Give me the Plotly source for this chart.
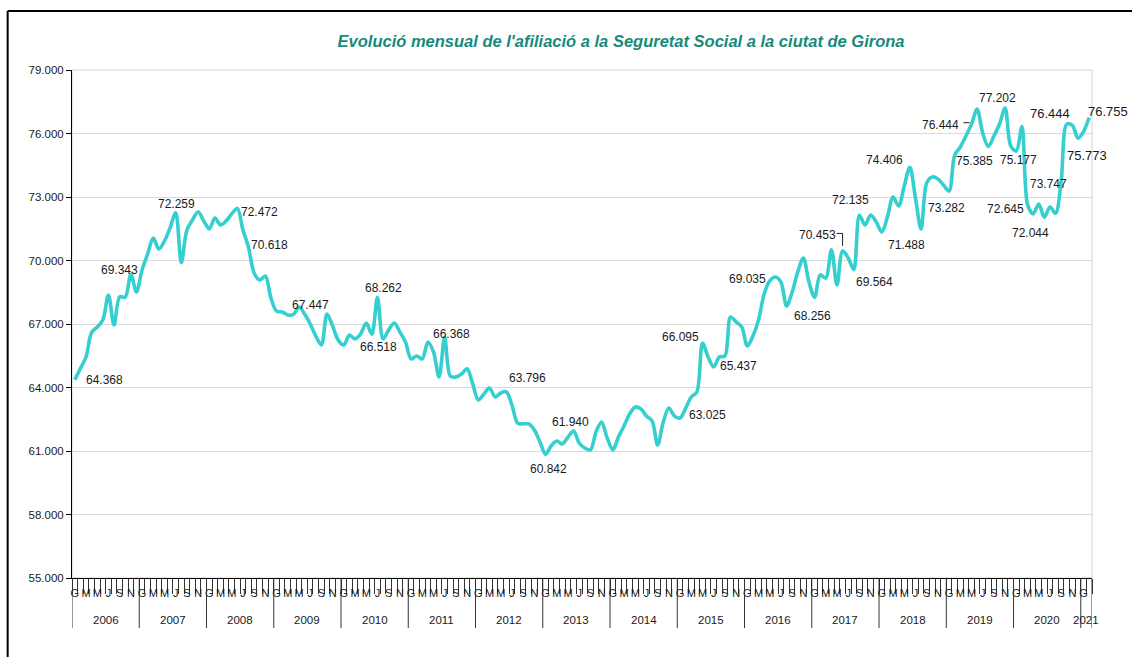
import plotly.graph_objects as go

# ---------------- data ----------------
month_letters = ["G", "F", "M", "A", "M", "J", "J", "A", "S", "O", "N", "D"]
years = list(range(2006, 2022))

afil_2006 = [64368, 64900, 65440, 66600, 66860, 67190, 68370, 66950, 68280, 68270, 69343, 68510]
afil_2007 = [69550, 70310, 71060, 70540, 70920, 71540, 72259, 69900, 71440, 71910, 72300, 71870]
afil_2008 = [71490, 72010, 71680, 71870, 72200, 72472, 71440, 70618, 69410, 69080, 69270, 68230]
afil_2009 = [67610, 67570, 67430, 67447, 67800, 67470, 67000, 66430, 66010, 67470, 66910, 66240]
afil_2010 = [66010, 66480, 66290, 66530, 67050, 66518, 68262, 66290, 66720, 67050, 66620, 66150]
afil_2011 = [65350, 65490, 65350, 66150, 65680, 64500, 66368, 64540, 64500, 64640, 64880, 64170]
afil_2012 = [63410, 63690, 63980, 63550, 63740, 63796, 63170, 62320, 62280, 62280, 61990, 61430]
afil_2013 = [60842, 61240, 61470, 61330, 61660, 61940, 61380, 61140, 61050, 61900, 62370, 61610]
afil_2014 = [61050, 61660, 62180, 62750, 63080, 62990, 62650, 62420, 61280, 62370, 63030, 62650]
afil_2015 = [62560, 63025, 63550, 63790, 66095, 65440, 64970, 65437, 65490, 67330, 67100, 66860]
afil_2016 = [65960, 66430, 67190, 68420, 69035, 69220, 68980, 67850, 68510, 69460, 70120, 68980]
afil_2017 = [68256, 69320, 69170, 70500, 68840, 70453, 70120, 69564, 72135, 71680, 72150, 71820]
afil_2018 = [71350, 72060, 73000, 72580, 73520, 74406, 72950, 71488, 73660, 73950, 73850, 73570]
afil_2019 = [73282, 74980, 75360, 75880, 76444, 77150, 76020, 75385, 75880, 76450, 77202, 75410]
afil_2020 = [75177, 76330, 72645, 72200, 72670, 72044, 72530, 72230, 73747, 76444, 76380, 75773]
afil_2021 = [76100, 76755]

values = (afil_2006 + afil_2007 + afil_2008 + afil_2009 + afil_2010 + afil_2011 + afil_2012
          + afil_2013 + afil_2014 + afil_2015 + afil_2016 + afil_2017 + afil_2018 + afil_2019
          + afil_2020 + afil_2021)
n = len(values)
xs = list(range(n))

# month indices whose value is written on the chart
labelled = [0, 10, 18, 29, 31, 39, 53, 54, 66, 77, 84, 89, 109, 112, 115, 124, 132, 137,
            139, 140, 149, 151, 156, 160, 163, 166, 168, 170, 173, 176, 177, 179, 181]

# ---------------- label placement (pixel offsets) ----------------
lab_dx = [30, -11.6, 1.3, 22.5, 21.3, 17.3, 6.9, 5.6, 6.9, 21.3, 3, -3.4, 22.1, -22, 19, -22.5, -2,
          -24.8, 20.5, -8.8, -25.8, -14.1, -3, -30.7, -14.2, -7.6, 2, -22.5, -14.2, -12.8, -16.9, 9, 18.3]
lab_dy = [0, 4.4, 8.4, -3.5, 2.4, 9.2, -13.1, 9, 3.7, 13.5, -15, 9.1, -6.8, 6.5, -8.6, 1.6, -18.3,
          15.8, -12, 15.3, 7.2, -16, -16.7, -0.9, -14.2, 9.6, -9.1, -4.8, -16.1, -2.8, 10.8, -17.4, 6.5]
lab_size = [12] * 30 + [13, 13, 13]

FONT = "Liberation Sans, Arial, sans-serif"
L, R, T, B = 72.3, 1091.7, 70, 578
W, H = 1132, 657


def fmt(v):
    return f"{v:,}".replace(",", ".")


fig = go.Figure()
fig.add_trace(go.Scatter(
    x=xs, y=values, mode="lines",
    line=dict(color="#36CFCF", width=3.6, shape="spline", smoothing=0.9),
    hoverinfo="skip", showlegend=False,
))

annotations = []
for k, i in enumerate(labelled):
    annotations.append(dict(
        x=i, y=values[i], xref="x", yref="y", text=fmt(values[i]), showarrow=False,
        xanchor="center", yanchor="middle", xshift=lab_dx[k], yshift=lab_dy[k],
        font=dict(family=FONT, size=lab_size[k], color="#1a1a1a"),
    ))

# year labels under the axis
pw, ph = R - L, B - T
for yi, yr in enumerate(years):
    start = yi * 12
    end = min(start + 11, n - 1)
    annotations.append(dict(
        x=(start + end) / 2, y=-(620 - B) / ph, xref="x", yref="paper", text=str(yr),
        showarrow=False, xanchor="center", yanchor="middle",
        font=dict(family=FONT, size=11.5, color="#1a1a1a"),
    ))

shapes = []
# plot area right/top border (light grey)
shapes.append(dict(type="rect", xref="paper", yref="paper", x0=0, y0=0, x1=1, y1=1,
                   line=dict(color="#d4d4d4", width=1), layer="below"))
# year divider lines
bounds = [yi * 12 - 0.5 for yi in range(len(years))] + [n - 0.5]
for bx in bounds:
    shapes.append(dict(type="line", xref="x", yref="paper", x0=bx, x1=bx, y0=0,
                       y1=-(628 - B) / ph, line=dict(color="#333333", width=1)))
# leader lines
shapes.append(dict(type="path", xref="x", yref="y", xsizemode="pixel", ysizemode="pixel",
                   xanchor=137, yanchor=values[137], path="M-6,17.5 L0,17.5 L0,5",
                   line=dict(color="#1a1a1a", width=1)))
shapes.append(dict(type="path", xref="x", yref="y", xsizemode="pixel", ysizemode="pixel",
                   xanchor=160, yanchor=values[160], path="M-8,1.4 L-2,1.4",
                   line=dict(color="#1a1a1a", width=1)))
# outer frame: left and top edges
fx0, fx1 = (8 - L) / pw, (1134 - L) / pw
fy0, fy1 = (B - 662) / ph, (B - 11) / ph
shapes.append(dict(type="line", xref="paper", yref="paper", x0=fx0, x1=fx0, y0=fy0, y1=fy1,
                   line=dict(color="black", width=2)))
shapes.append(dict(type="line", xref="paper", yref="paper", x0=fx0, x1=fx1, y0=fy1, y1=fy1,
                   line=dict(color="black", width=2)))

tickvals = [i for i in xs if i % 2 == 0]
ticktext = [month_letters[i % 12] for i in tickvals]

fig.update_layout(
    width=W, height=H,
    margin=dict(l=L, r=W - R, t=T, b=H - B, autoexpand=False),
    paper_bgcolor="white", plot_bgcolor="white",
    separators=",.",
    font=dict(family=FONT, size=12, color="#1a1a1a"),
    title=dict(
        text="<b><i>Evolució mensual de l'afiliació a la Seguretat Social a la ciutat de Girona</i></b>",
        x=(621 - L) / pw, xref="paper", xanchor="center",
        y=1 - 41 / H, yref="container", yanchor="middle",
        font=dict(family=FONT, size=16.5, color="#168A7C"),
    ),
    xaxis=dict(
        range=[-0.5, n - 0.5], showgrid=False, zeroline=False,
        showline=True, linecolor="black", linewidth=1,
        tickmode="array", tickvals=tickvals, ticktext=ticktext,
        ticks="outside", ticklen=5, tickcolor="rgba(0,0,0,0)",
        tickfont=dict(family=FONT, size=11, color="#1a1a1a"),
        minor=dict(tickmode="array", tickvals=[i - 0.5 for i in range(n + 1)],
                   ticks="outside", ticklen=15, tickcolor="#333333", tickwidth=1, showgrid=False),
    ),
    yaxis=dict(
        range=[55000, 79000], dtick=3000, tick0=55000, tickformat=",d",
        showgrid=True, gridcolor="#d9d9d9", gridwidth=1, zeroline=False,
        showline=True, linecolor="black", linewidth=1,
        ticks="outside", ticklen=5, tickcolor="black",
        tickfont=dict(family=FONT, size=11.5, color="#1a1a1a"),
    ),
    annotations=annotations,
    shapes=shapes,
)

fig.write_html("out.html", config={"displayModeBar": False},
               post_script="document.body.style.margin='0';document.body.style.padding='0';")
